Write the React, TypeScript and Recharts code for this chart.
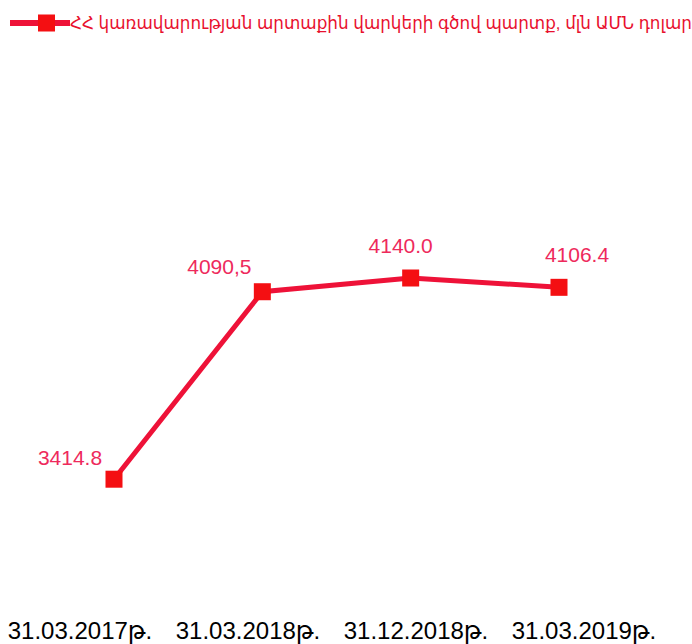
import { LabelList, Legend, Line, LineChart, XAxis, YAxis } from "recharts";

// ՀՀ կառավարության արտաքին վարկերի գծով պարտք
const dates = ["31.03.2017թ.", "31.03.2018թ.", "31.12.2018թ.", "31.03.2019թ."];
const debtValues = [3414.8, 4090.5, 4140.0, 4106.4];
const valueLabels = ["3414.8", "4090,5", "4140.0", "4106.4"];
const seriesName = "ՀՀ կառավարության արտաքին վարկերի գծով պարտք, մլն ԱՄՆ դոլար";

const chartData = dates.map((date, i) => ({
    date,
    value: debtValues[i],
    label: valueLabels[i],
}));

const LINE_COLOR = "#ee1238";
const MARKER_COLOR = "#f40f12";
const LABEL_COLOR = "#ee2a5c";
const FONT = "'Liberation Sans', Arial, 'DejaVu Sans', sans-serif";

// hand-placed data label offsets, like the original
const labelDx = [-44, -43, -10, 18];
const labelDy = [-22, -25, -33, -33];

function SquareDot(props: any) {
    const { cx, cy, index } = props;
    if (cx == null || cy == null) return null;
    return (
        <rect
            key={`dot-${index}`}
            x={cx - 8.5}
            y={cy - 8.5}
            width={17}
            height={17}
            fill={MARKER_COLOR}
        />
    );
}

function ValueLabel(props: any) {
    const { x, y, index, value } = props;
    return (
        <text
            x={x + labelDx[index]}
            y={y + labelDy[index]}
            textAnchor="middle"
            dominantBaseline="central"
            fill={LABEL_COLOR}
            fontSize={21}
            fontFamily={FONT}
        >
            {value}
        </text>
    );
}

function LegendContent() {
    return (
        <div style={{ display: "flex", alignItems: "center", height: 20, paddingLeft: 10 }}>
            <svg width={70} height={20}>
                <line x1={0} y1={10} x2={67} y2={10} stroke={LINE_COLOR} strokeWidth={6} />
                <rect x={28} y={1.5} width={17} height={17} fill={MARKER_COLOR} />
            </svg>
            <span
                style={{
                    fontFamily: FONT,
                    fontSize: 16.8,
                    color: "#e8102e",
                    whiteSpace: "nowrap",
                }}
            >
                {seriesName}
            </span>
        </div>
    );
}

export default function App() {
    return (
        <div style={{ position: "absolute", left: 0, top: 0, background: "#fff" }}>
            <LineChart
                width={692}
                height={644}
                data={chartData}
                margin={{ top: 0, right: 0, bottom: 0, left: 0 }}
            >
                <XAxis
                    xAxisId="pts"
                    dataKey="date"
                    type="category"
                    scale="point"
                    padding={{ left: 114, right: 133 }}
                    hide
                />
                <XAxis
                    xAxisId="lbl"
                    dataKey="date"
                    type="category"
                    scale="point"
                    padding={{ left: 80, right: 108 }}
                    height={40}
                    axisLine={false}
                    tickLine={false}
                    tickMargin={12}
                    interval={0}
                    tick={{ fontSize: 24, fill: "#000", fontFamily: FONT }}
                />
                <YAxis hide domain={[2965, 5142]} allowDataOverflow />
                <Legend
                    layout="horizontal"
                    align="center"
                    verticalAlign="middle"
                    wrapperStyle={{ top: 13, left: 0, width: 692 }}
                    content={<LegendContent />}
                />
                <Line
                    xAxisId="pts"
                    type="linear"
                    dataKey="value"
                    name={seriesName}
                    stroke={LINE_COLOR}
                    strokeWidth={5}
                    dot={<SquareDot />}
                    activeDot={false}
                    isAnimationActive={false}
                >
                    <LabelList dataKey="label" content={<ValueLabel />} />
                </Line>
            </LineChart>
        </div>
    );
}
